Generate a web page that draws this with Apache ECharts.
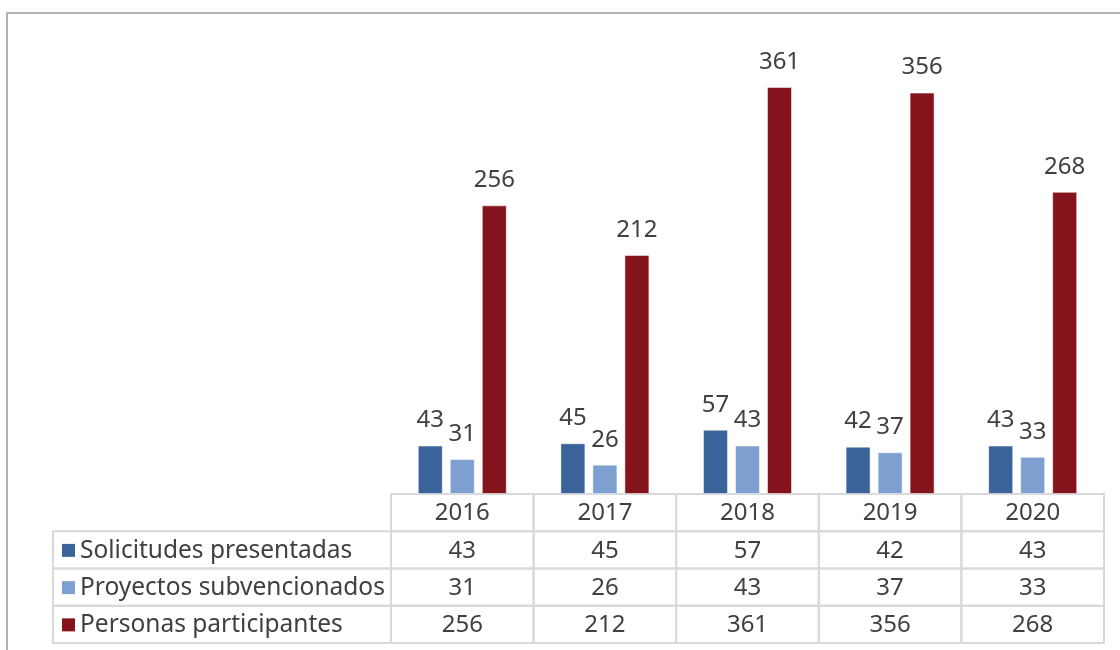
<!DOCTYPE html>
<html>
<head>
<meta charset="utf-8">
<script src="https://cdn.jsdelivr.net/npm/echarts@6/dist/echarts.min.js"></script>
<style>
  html, body { margin: 0; padding: 0; background: #fff; }
  #charts_main { width: 1120px; height: 650px; }
</style>
</head>
<body>
<div id="charts_main"></div>
<script>
// datos
const years = ['2016', '2017', '2018', '2019', '2020'];
const seriesNames = ['Solicitudes presentadas', 'Proyectos subvencionados', 'Personas participantes'];
const solicitudes = [43, 45, 57, 42, 43];
const proyectos = [31, 26, 43, 37, 33];
const personas = [256, 212, 361, 356, 268];

const colors = ['#3a6399', '#7ea0d0', '#85131b'];
const textColor = '#404040';
const lineColor = '#d9d9d9';
const fontFamily = '"Noto Sans", sans-serif';
const legendW = 338;

function init() {
  const Chart = echarts.init(document.getElementById('charts_main'));
  const allValues = [solicitudes, proyectos, personas];

  // celdas de la tabla: [columna, fila, valor]
  const cells = [];
  years.forEach((y, i) => cells.push([i, 0, +y]));
  allValues.forEach((vals, r) => vals.forEach((v, i) => cells.push([i, r + 1, v])));
  const legendCells = seriesNames.map((n, r) => [0, r + 1, r]);

  const cellItem = function (params, api) {
    const c = api.coord([api.value(0), api.value(1)]);
    const s = api.size([1, 1]);
    return {
      type: 'group',
      children: [
        {
          type: 'rect',
          shape: {x: c[0] - s[0] / 2, y: c[1] - s[1] / 2, width: s[0], height: s[1]},
          style: {fill: null, stroke: lineColor, lineWidth: 2}
        },
        {
          type: 'text',
          style: {
            text: String(api.value(2)), x: c[0], y: c[1] + 1,
            align: 'center', verticalAlign: 'middle',
            font: '24px ' + fontFamily, fill: textColor
          }
        }
      ]
    };
  };

  const legendItem = function (params, api) {
    const c = api.coord([api.value(0), api.value(1)]);
    const s = api.size([1, 1]);
    const r = api.value(2);
    const x0 = c[0] - s[0] / 2 - legendW;
    return {
      type: 'group',
      children: [
        {
          type: 'rect',
          shape: {x: x0, y: c[1] - s[1] / 2, width: legendW, height: s[1]},
          style: {fill: null, stroke: lineColor, lineWidth: 2}
        },
        {
          type: 'rect',
          shape: {x: x0 + 9, y: c[1] - 6, width: 13, height: 13},
          style: {fill: colors[r]}
        },
        {
          type: 'text',
          style: {
            text: seriesNames[r], x: x0 + 27, y: c[1] + 1,
            align: 'left', verticalAlign: 'middle',
            font: '24.5px ' + fontFamily, fill: textColor
          }
        }
      ]
    };
  };

  const barSeries = allValues.map((vals, r) => ({
    name: seriesNames[r],
    type: 'bar',
    xAxisIndex: 0,
    yAxisIndex: 0,
    barWidth: 25,
    barGap: '28%',
    itemStyle: {color: colors[r], borderColor: 'rgba(255,255,255,0.5)', borderWidth: 1},
    label: {
      show: true, position: 'top', distance: 13,
      fontFamily: fontFamily, fontSize: 24, color: textColor
    },
    data: vals
  }));

  const option = {
    animation: false,
    graphic: [{
      type: 'rect', z: -10,
      shape: {x: 7, y: 13, width: 1200, height: 700},
      style: {fill: null, stroke: '#b3b3b3', lineWidth: 2}
    }],
    grid: [
      {left: 391, right: 16, top: 43, bottom: 156},
      {left: 391, right: 16, top: 494, bottom: 7}
    ],
    xAxis: [
      {type: 'category', gridIndex: 0, data: years, show: false},
      {type: 'category', gridIndex: 1, data: years, show: false}
    ],
    yAxis: [
      {type: 'value', gridIndex: 0, min: 0, max: 400, show: false},
      {type: 'category', gridIndex: 1, inverse: true, data: ['', ...seriesNames], show: false}
    ],
    series: [
      ...barSeries,
      {type: 'custom', xAxisIndex: 1, yAxisIndex: 1, renderItem: cellItem, data: cells},
      {type: 'custom', xAxisIndex: 1, yAxisIndex: 1, renderItem: legendItem, data: legendCells}
    ]
  };
  Chart.setOption(option);
}

init();
</script>
</body>
</html>
